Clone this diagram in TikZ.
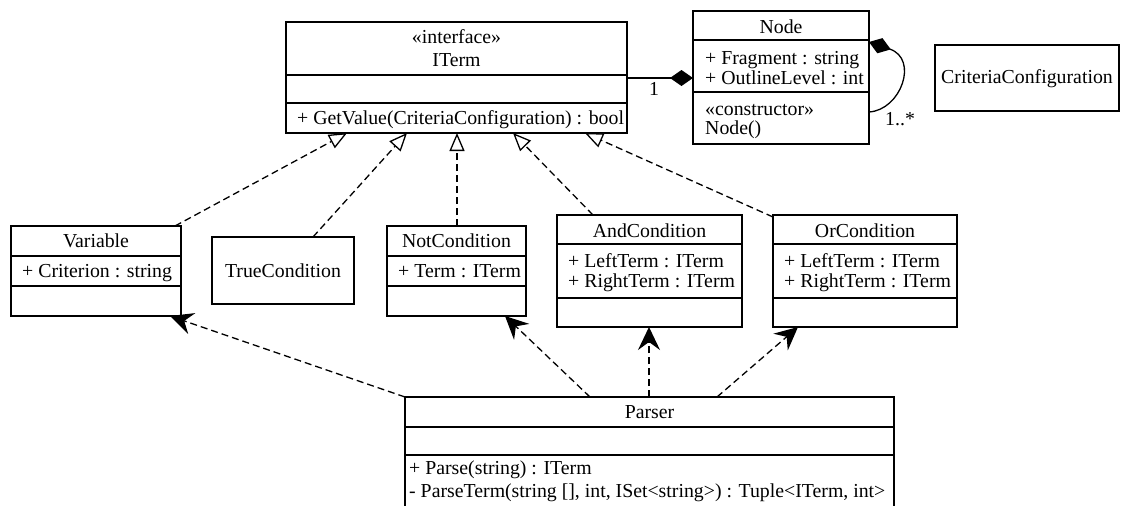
\documentclass[tikz,border=0pt]{standalone}
\usepackage{fontspec}
\setmainfont{Liberation Serif}
\usetikzlibrary{arrows.meta}

\newcommand\umlfont{\fontsize{19.8}{20}\selectfont}
% horizontal compartment line of a class box, #2 pt below its top edge
\newcommand\umldiv[2]{\draw[umlline] ([yshift=-#2pt]#1.north west) -- ([yshift=-#2pt]#1.north east);}

\tikzset{
  umlline/.style={line width=1.3pt},
  cls/.style={draw, umlline, fill=white, inner sep=0pt, outer sep=0pt, anchor=north west},
  txt/.style={inner sep=0pt, anchor=base west, font=\umlfont},
  ttl/.style={inner sep=0pt, anchor=base, font=\umlfont},
  realize/.style={umlline, dash pattern=on 7pt off 4pt,
    -{Triangle[open, fill=white, length=18pt, width=15pt]}},
  depend/.style={umlline, dash pattern=on 7pt off 4pt,
    -{Stealth[length=23pt, width=22pt, inset=8pt]}},
  compose/.style={umlline, -{Diamond[length=23pt, width=16pt]}},
}

\begin{document}
\begin{tikzpicture}[x=1pt, y=-1pt]
\useasboundingbox (0,0) rectangle (1122,506);
\clip (0,0) rectangle (1122,506);

% class boxes
\node[cls, minimum width=341pt, minimum height=111pt] (iterm)   at (286,22)  {};
\node[cls, minimum width=176pt, minimum height=133pt] (nodecls) at (693,11)  {};
\node[cls, minimum width=184pt, minimum height=66pt]  (crit)    at (935,45)  {};
\node[cls, minimum width=170pt, minimum height=90pt]  (var)     at (11,226)  {};
\node[cls, minimum width=142pt, minimum height=67pt]  (truec)   at (212,237) {};
\node[cls, minimum width=139pt, minimum height=90pt]  (notc)    at (387,226) {};
\node[cls, minimum width=185pt, minimum height=112pt] (andc)    at (557,215) {};
\node[cls, minimum width=184pt, minimum height=112pt] (orc)     at (773,215) {};
\node[cls, minimum width=489pt, minimum height=140pt] (parser)  at (405,397) {};

% compartments
\umldiv{iterm}{53}   \umldiv{iterm}{81}
\umldiv{nodecls}{29} \umldiv{nodecls}{81}
\umldiv{var}{30}     \umldiv{var}{60}
\umldiv{notc}{30}    \umldiv{notc}{60}
\umldiv{andc}{29}    \umldiv{andc}{83}
\umldiv{orc}{29}     \umldiv{orc}{83}
\umldiv{parser}{30}  \umldiv{parser}{58}

% ITerm
\node[ttl] (iterm-st)  at (456.5,43) {«interface»};
\node[ttl] (iterm-nm)  at (456.5,66) {ITerm};
\node[txt] (iterm-m1)  at (297,124)  {+ GetValue(CriteriaConfiguration) : bool};

% Node
\node[ttl] (node-nm)   at (781,33)  {Node};
\node[txt] (node-a1)   at (705,64)  {+ Fragment : string};
\node[txt] (node-a2)   at (705,84)  {+ OutlineLevel : int};
\node[txt] (node-st)   at (705,115) {«constructor»};
\node[txt] (node-m1)   at (705,134) {Node()};

% CriteriaConfiguration
\node[ttl] (crit-nm)   at (1027,83) {CriteriaConfiguration};

% Variable
\node[ttl] (var-nm)    at (96,247)  {Variable};
\node[txt] (var-a1)    at (22,277)  {+ Criterion : string};

% TrueCondition
\node[ttl] (true-nm)   at (283,277) {TrueCondition};

% NotCondition
\node[ttl] (not-nm)    at (456.5,247) {NotCondition};
\node[txt] (not-a1)    at (398,277)   {+ Term : ITerm};

% AndCondition
\node[ttl] (and-nm)    at (649.5,237) {AndCondition};
\node[txt] (and-a1)    at (568,267)   {+ LeftTerm : ITerm};
\node[txt] (and-a2)    at (568,287)   {+ RightTerm : ITerm};

% OrCondition
\node[ttl] (or-nm)     at (865,237) {OrCondition};
\node[txt] (or-a1)     at (784,267) {+ LeftTerm : ITerm};
\node[txt] (or-a2)     at (784,287) {+ RightTerm : ITerm};

% Parser
\node[ttl] (parser-nm) at (649.5,418) {Parser};
\node[txt] (parser-m1) at (409,474)   {+ Parse(string) : ITerm};
\node[txt] (parser-m2) at (409,497)   {- ParseTerm(string [], int, ISet<string>) : Tuple<ITerm, int>};

% composition ITerm -- Node
\draw[compose] ([yshift=-56pt]iterm.north east) -- ([yshift=-67pt]nodecls.north west);
\node[ttl] (mult-one) at (654,95) {1};

% Node self composition
\draw[compose] ([yshift=-101pt]nodecls.north east)
  .. controls +(32,-2) and +(50,17) .. ([yshift=-31pt]nodecls.north east);
\node[txt] (mult-many) at (885,125) {1..*};

% realizations of ITerm
\draw[realize] ([xshift=164pt]var.north west)   -- ([xshift=61pt]iterm.south west);
\draw[realize] ([xshift=101pt]truec.north west) -- ([xshift=121pt]iterm.south west);
\draw[realize] ([xshift=70pt]notc.north west)   -- ([xshift=171pt]iterm.south west);
\draw[realize] ([xshift=36pt]andc.north west)   -- ([xshift=227pt]iterm.south west);
\draw[realize] ([yshift=-2pt]orc.north west)    -- ([xshift=299pt]iterm.south west);

% dependencies of Parser
\draw[depend] (parser.north west)                 -- ([xshift=159pt]var.south west);
\draw[depend] ([xshift=185pt]parser.north west)   -- ([xshift=118pt]notc.south west);
\draw[depend] ([xshift=244pt]parser.north west)   -- ([xshift=92pt]andc.south west);
\draw[depend] ([xshift=312pt]parser.north west)   -- ([xshift=25pt]orc.south west);
\end{tikzpicture}
\end{document}
